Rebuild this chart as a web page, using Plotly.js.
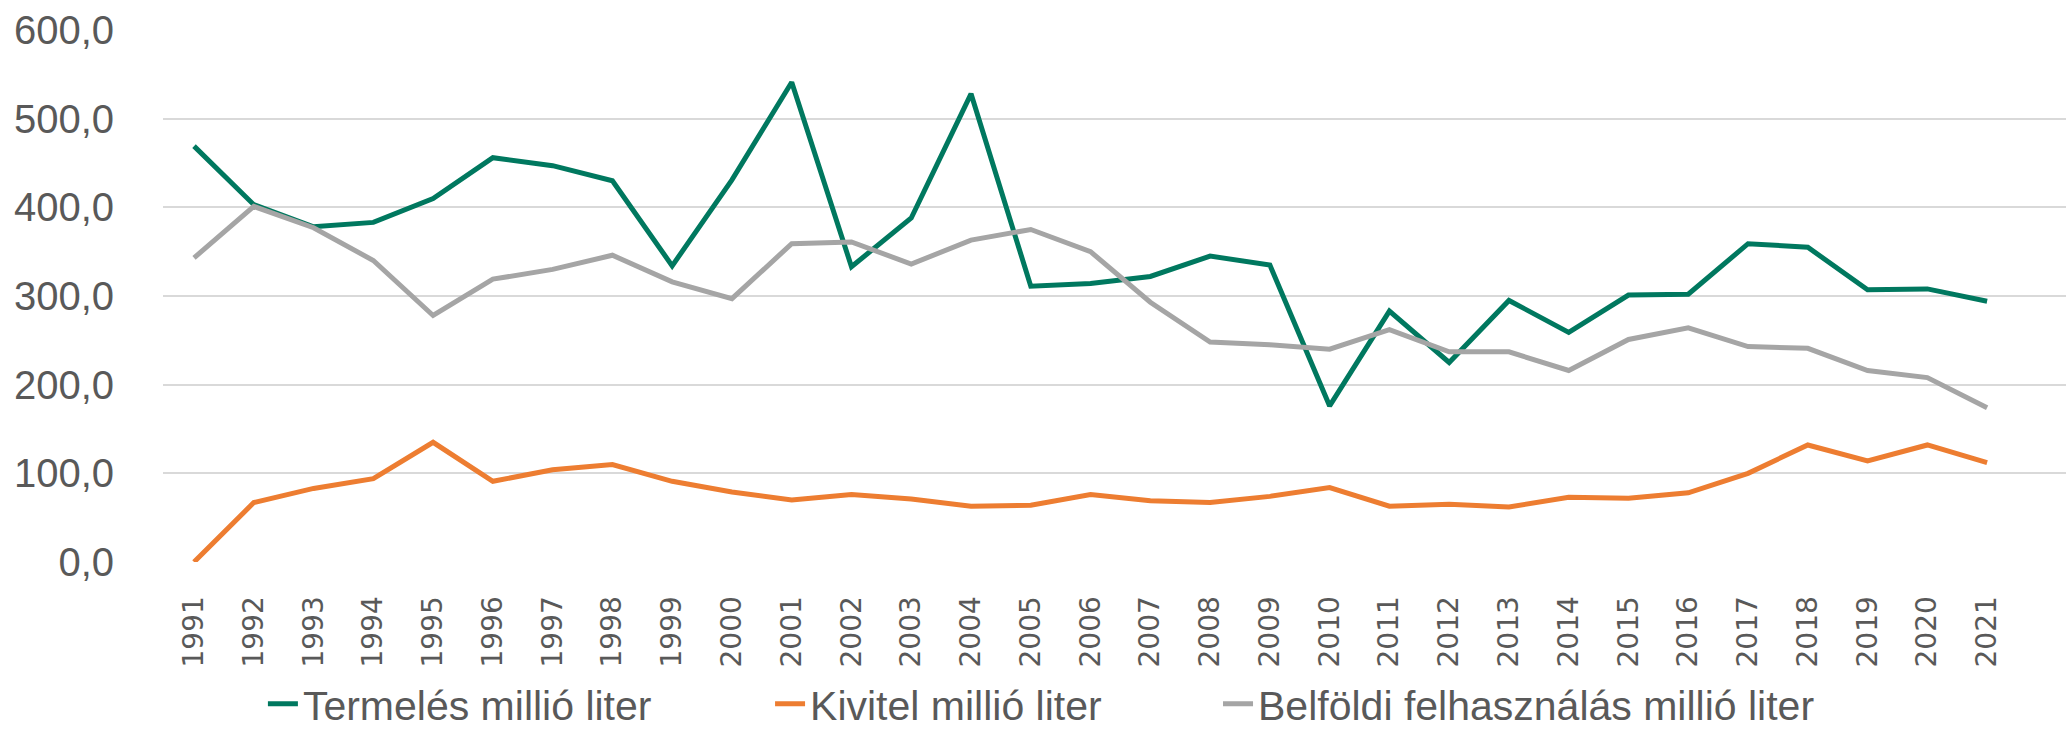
<!DOCTYPE html>
<html>
<head>
<meta charset="utf-8">
<script src="https://cdn.plot.ly/plotly-3.0.1.min.js"></script>
<style>
html,body{margin:0;padding:0;background:#fff;}
#chart{width:2066px;height:730px;}
</style>
</head>
<body>
<div id="chart"></div>
<script>
const years = ["1991","1992","1993","1994","1995","1996","1997","1998","1999","2000",
  "2001","2002","2003","2004","2005","2006","2007","2008","2009","2010",
  "2011","2012","2013","2014","2015","2016","2017","2018","2019","2020","2021"];

const termeles = [469, 403, 378, 383, 410, 456, 447, 430, 334, 431,
  541, 333, 388, 528, 311, 314, 322, 345, 335, 176,
  283, 225, 295, 259, 301, 302, 359, 355, 307, 308, 294];

const kivitel = [0, 67, 83, 94, 135, 91, 104, 110, 91, 79,
  70, 76, 71, 63, 64, 76, 69, 67, 74, 84,
  63, 65, 62, 73, 72, 78, 100, 132, 114, 132, 112];

const belfoldi = [343, 401, 377, 340, 278, 319, 330, 346, 316, 297,
  359, 361, 336, 363, 375, 350, 293, 248, 245, 240,
  262, 237, 237, 216, 251, 264, 243, 241, 216, 208, 174];

const seriesNames = ["Termelés millió liter", "Kivitel millió liter", "Belföldi felhasználás millió liter"];
const seriesColors = ["#00785F", "#ED7D31", "#A5A5A5"];

const legendFont = {family: "Liberation Sans, Arial, sans-serif", size: 41, color: "#595959"};

const traces = [termeles, kivitel, belfoldi].map((vals, i) => ({
  type: "scatter",
  mode: "lines",
  x: years,
  y: vals,
  name: seriesNames[i],
  line: {color: seriesColors[i], width: 5},
  legend: i === 0 ? "legend" : ("legend" + (i + 1)),
  hoverinfo: "x+y+name"
}));

const legendBase = {
  orientation: "h",
  yanchor: "middle",
  xanchor: "left",
  y: -0.2669,
  font: legendFont,
  bgcolor: "rgba(0,0,0,0)",
  borderwidth: 0
};

const layout = {
  width: 2066,
  height: 730,
  margin: {l: 163, r: 0, t: 30, b: 168, autoexpand: false},
  paper_bgcolor: "#ffffff",
  plot_bgcolor: "#ffffff",
  separators: ", ",
  showlegend: true,
  xaxis: {
    type: "category",
    range: [-0.519, 31.32],
    showgrid: false,
    zeroline: false,
    showline: false,
    automargin: false,
    ticks: "outside",
    ticklen: 22,
    tickcolor: "rgba(0,0,0,0)",
    tickangle: -90,
    tickfont: {family: "DejaVu Sans, sans-serif", size: 28, color: "#595959"}
  },
  yaxis: {
    range: [0, 600],
    dtick: 100,
    tick0: 0,
    tickformat: ".1f",
    showgrid: true,
    gridcolor: "#D9D9D9",
    gridwidth: 2,
    zeroline: false,
    showline: false,
    automargin: false,
    ticks: "outside",
    ticklen: 40,
    tickcolor: "rgba(0,0,0,0)",
    tickfont: {family: "Liberation Sans, Arial, sans-serif", size: 40, color: "#595959"}
  },
  legend: Object.assign({}, legendBase, {x: 0.0525}),
  legend2: Object.assign({}, legendBase, {x: 0.319}),
  legend3: Object.assign({}, legendBase, {x: 0.5544})
};

Plotly.newPlot("chart", traces, layout, {displayModeBar: false, responsive: false});
</script>
</body>
</html>
